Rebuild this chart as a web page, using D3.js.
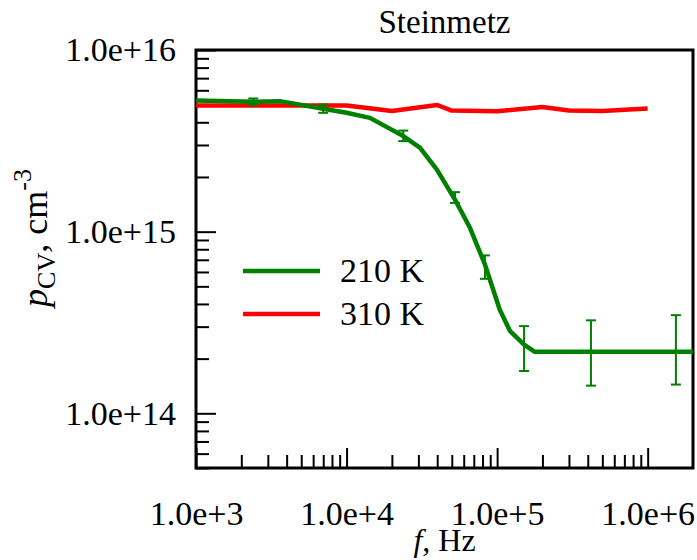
<!DOCTYPE html>
<html lang="en">
<head>
  <meta charset="UTF-8">
  <title>Steinmetz</title>
  <script src="https://d3js.org/d3.v7.min.js"></script>
  <style>
    body {
      margin: 0;
      background: #fff;
    }
    svg text {
      font-family: 'Liberation Serif', 'Times New Roman', serif;
      fill: #000;
    }
    .tick line {
      stroke: #000;
      stroke-width: 2;
    }
  </style>
</head>
<body>
  <svg width="697" height="560"></svg>

  <script>
    // red curve, 310 K
    const freqsRed = [1e3, 2e3, 5e3, 1e4, 2e4, 4e4, 5e4, 1e5, 2e5, 3e5, 5e5, 1e6];
    const pRed = [4.95e15, 4.95e15, 4.95e15, 4.95e15, 4.62e15, 4.98e15, 4.64e15, 4.6e15, 4.86e15, 4.64e15, 4.62e15, 4.77e15];

    // green curve, 210 K
    const freqsGreen = [1e3, 2.4e3, 3.6e3, 7e3, 1e4, 1.43e4, 2.38e4, 3.07e4, 3.97e4, 5.25e4, 6.6e4, 8.3e4, 1.04e5, 1.22e5, 1.51e5, 1.78e5, 2e6];
    const pGreen = [5.27e15, 5.19e15, 5.23e15, 4.75e15, 4.51e15, 4.23e15, 3.36e15, 2.9e15, 2.2e15, 1.5e15, 1.05e15, 6.6e14, 3.73e14, 2.83e14, 2.39e14, 2.18e14, 2.18e14];

    // error bars on the green curve
    const errFreqs = [2.4e3, 7e3, 2.38e4, 5.25e4, 8.3e4, 1.51e5, 4.2e5, 1.54e6];
    const errHigh = [5.41e15, 5.01e15, 3.6e15, 1.65e15, 7.4e14, 3.02e14, 3.25e14, 3.47e14];
    const errLow = [4.95e15, 4.51e15, 3.15e15, 1.44e15, 5.5e14, 1.71e14, 1.42e14, 1.44e14];

    // tick labels
    const xMajor = [1e3, 1e4, 1e5, 1e6];
    const xLabels = ["1.0e+3", "1.0e+4", "1.0e+5", "1.0e+6"];
    const yMajor = [1e14, 1e15, 1e16];
    const yLabels = ["1.0e+14", "1.0e+15", "1.0e+16"];

    const legendNames = ["210 K", "310 K"];
    const colors = ["#008000", "#ff0000"];

    const svg = d3.select("svg"),
      margin = { top: 50, right: 4, bottom: 92, left: 196 },
      width = +svg.attr("width") - margin.left - margin.right,
      height = +svg.attr("height") - margin.top - margin.bottom;

    const g = svg.append("g").attr("transform", `translate(${margin.left},${margin.top})`);

    const x = d3.scaleLog().domain([1e3, 2e6]).range([0, width]);
    const y = d3.scaleLog().domain([5e13, 1e16]).range([height, 0]);

    // minor ticks: 2..9 in each decade
    const xMinor = [];
    [1e3, 1e4, 1e5].forEach(d => { for (let k = 2; k <= 9; k++) xMinor.push(d * k); });
    const yMinor = [];
    [1e13, 1e14, 1e15].forEach(d => { for (let k = 2; k <= 9; k++) if (d * k >= 5e13) yMinor.push(d * k); });

    // minor ticks
    g.append("g")
      .attr("transform", `translate(0,${height})`)
      .call(d3.axisBottom(x).tickValues(xMinor).tickSize(-13).tickFormat(""))
      .call(a => a.select(".domain").remove());
    g.append("g")
      .call(d3.axisLeft(y).tickValues(yMinor).tickSize(-13).tickFormat(""))
      .call(a => a.select(".domain").remove());

    // major ticks with labels
    g.append("g")
      .attr("transform", `translate(0,${height})`)
      .call(d3.axisBottom(x).tickValues(xMajor).tickSize(-20).tickPadding(33)
        .tickFormat((d, i) => xLabels[i]))
      .call(a => a.select(".domain").remove())
      .selectAll("text")
      .style("font-size", "34px");
    g.append("g")
      .call(d3.axisLeft(y).tickValues(yMajor).tickSize(-20).tickPadding(20)
        .tickFormat((d, i) => yLabels[i]))
      .call(a => a.select(".domain").remove())
      .selectAll("text")
      .style("font-size", "34px");

    // frame
    g.append("rect")
      .attr("width", width)
      .attr("height", height)
      .attr("fill", "none")
      .attr("stroke", "#000")
      .attr("stroke-width", 3);

    const line = d3.line()
      .x(d => x(d[0]))
      .y(d => y(d[1]));

    // red line
    g.append("path")
      .datum(freqsRed.map((f, i) => [f, pRed[i]]))
      .attr("fill", "none")
      .attr("stroke", colors[1])
      .attr("stroke-width", 4.5)
      .attr("stroke-linejoin", "round")
      .attr("d", line);

    // green line
    g.append("path")
      .datum(freqsGreen.map((f, i) => [f, pGreen[i]]))
      .attr("fill", "none")
      .attr("stroke", colors[0])
      .attr("stroke-width", 4.5)
      .attr("stroke-linejoin", "round")
      .attr("d", line);

    // error bars
    const errData = errFreqs.map((f, i) => ({ f: f, hi: errHigh[i], lo: errLow[i] }));
    const eb = g.selectAll(".err")
      .data(errData)
      .enter()
      .append("g")
      .attr("class", "err")
      .attr("stroke", colors[0])
      .attr("stroke-width", 2);
    eb.append("line")
      .attr("x1", d => x(d.f)).attr("x2", d => x(d.f))
      .attr("y1", d => y(d.hi)).attr("y2", d => y(d.lo));
    eb.append("line")
      .attr("x1", d => x(d.f) - 5).attr("x2", d => x(d.f) + 5)
      .attr("y1", d => y(d.hi)).attr("y2", d => y(d.hi));
    eb.append("line")
      .attr("x1", d => x(d.f) - 5).attr("x2", d => x(d.f) + 5)
      .attr("y1", d => y(d.lo)).attr("y2", d => y(d.lo));

    // legend
    const legend = svg.append("g").attr("transform", "translate(243,271)");
    legendNames.forEach((name, i) => {
      legend.append("line")
        .attr("x1", 0).attr("x2", 77)
        .attr("y1", i * 43).attr("y2", i * 43)
        .attr("stroke", colors[i])
        .attr("stroke-width", 4.5);
      legend.append("text")
        .attr("x", 97)
        .attr("y", i * 43 + 11)
        .style("font-size", "34px")
        .text(name);
    });

    // title
    svg.append("text")
      .attr("x", margin.left + width / 2)
      .attr("y", 33)
      .attr("text-anchor", "middle")
      .style("font-size", "33px")
      .text("Steinmetz");

    // x axis label
    const xl = svg.append("text")
      .attr("x", margin.left + width / 2)
      .attr("y", 551)
      .attr("text-anchor", "middle")
      .style("font-size", "32px");
    xl.append("tspan").style("font-style", "italic").text("f");
    xl.append("tspan").text(", Hz");

    // y axis label
    const yl = svg.append("text")
      .attr("transform", "translate(47,238) rotate(-90)")
      .attr("text-anchor", "middle")
      .style("font-size", "36px");
    yl.append("tspan").style("font-style", "italic").text("p");
    yl.append("tspan").attr("dy", 8).style("font-size", "26px").text("CV");
    yl.append("tspan").attr("dy", -8).text(", cm");
    yl.append("tspan").attr("dy", -16).style("font-size", "26px").text("-3");
  </script>
</body>
</html>
